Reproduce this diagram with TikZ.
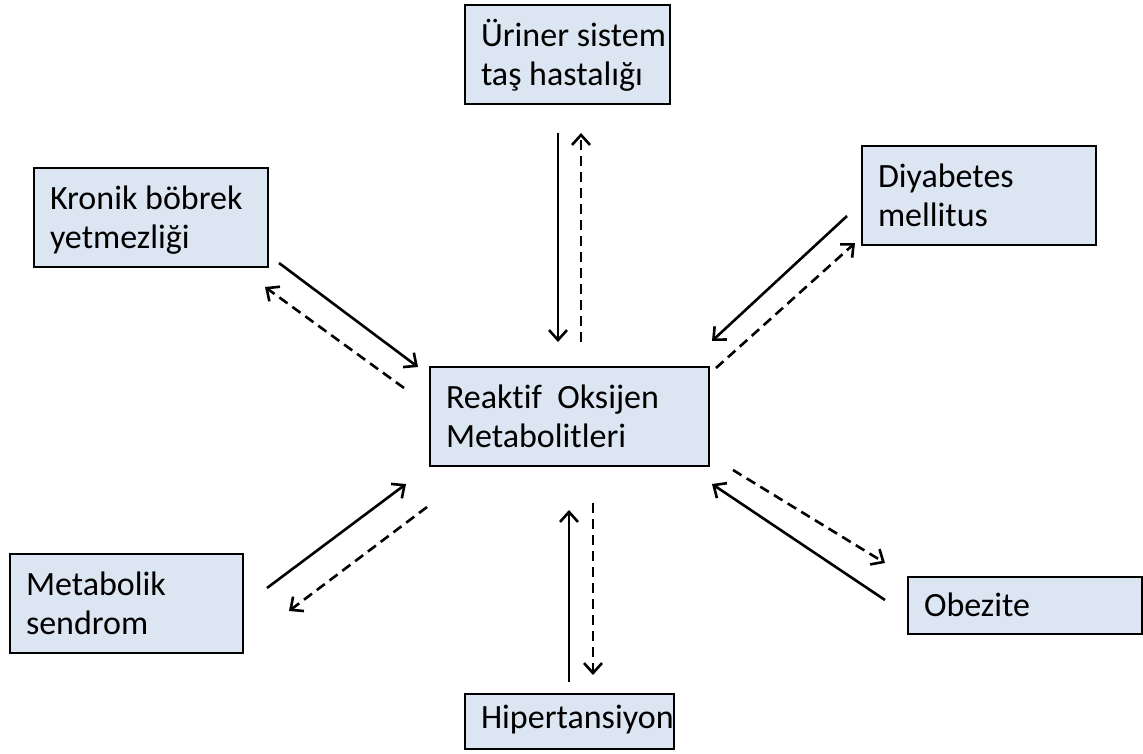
\documentclass[tikz,border=0pt]{standalone}
\usepackage{fontspec}
\setmainfont{Carlito}[Ligatures=NoCommon]
\usetikzlibrary{arrows.meta}
\definecolor{boxfill}{HTML}{DCE6F2}
\tikzset{
  box/.style={draw=black, line width=2pt, fill=boxfill, inner xsep=16pt, inner ysep=0pt,
    align=flush left, anchor=north west, font=\fontsize{34}{39}\selectfont},
  solidarr/.style={line width=2.6pt, -{Straight Barb[length=10pt,width=18pt,line width=2.6pt]}},
  dasharr/.style={solidarr, dash pattern=on 10pt off 6pt}
}
\newcommand{\topstrut}[1]{\rule{0pt}{#1}}
\newcommand{\botstrut}[1]{\rule[-#1]{0pt}{0pt}}
\begin{document}
\begin{tikzpicture}[x=1pt,y=-1pt]
\useasboundingbox (0,0) rectangle (1143,753);
% boxes
\node[box, text width=173pt] (uri) at (464,4) {\topstrut{41pt}\mbox{Üriner sistem}\\\mbox{taş hastalığı}\botstrut{19pt}};
\node[box, text width=202pt] (diy) at (861,145) {\topstrut{41pt}\mbox{Diyabetes}\\\mbox{mellitus}\botstrut{19pt}};
\node[box, text width=202pt] (kro) at (33,167) {\topstrut{41pt}\mbox{Kronik böbrek}\\\mbox{yetmezliği}\botstrut{19pt}};
\node[box, text width=247pt] (rom) at (429,366) {\topstrut{41pt}\mbox{Reaktif\ \ Oksijen}\\\mbox{Metabolitleri}\botstrut{19pt}};
\node[box, text width=201pt] (met) at (9,553) {\topstrut{41pt}\mbox{Metabolik}\\\mbox{sendrom}\botstrut{19pt}};
\node[box, text width=202pt] (obe) at (907,576) {\topstrut{39pt}\mbox{Obezite}\botstrut{18pt}};
\node[box, text width=177pt] (hip) at (464,693) {\topstrut{34pt}\mbox{Hipertansiyon}\botstrut{21pt}};
% arrow end coordinates
\coordinate (u1) at (558,133); \coordinate (u2) at (558,342);
\coordinate (u3) at (581,342); \coordinate (u4) at (581,133);
\coordinate (k1) at (279,263); \coordinate (k2) at (418,367);
\coordinate (k3) at (404,388); \coordinate (k4) at (265,287);
\coordinate (d1) at (847,216); \coordinate (d2) at (712,341);
\coordinate (d3) at (716,368); \coordinate (d4) at (855,243);
\coordinate (m1) at (267,588); \coordinate (m2) at (406,484);
\coordinate (m3) at (427,507); \coordinate (m4) at (289,611);
\coordinate (h1) at (569,682); \coordinate (h2) at (569,510);
\coordinate (h3) at (593,503); \coordinate (h4) at (593,675);
\coordinate (o1) at (733,470); \coordinate (o2) at (885,563);
\coordinate (o3) at (885,600); \coordinate (o4) at (712,484);
% arrows
\draw[solidarr] (u1) -- (u2);
\draw[dasharr] (u3) -- (u4);
\draw[solidarr] (k1) -- (k2);
\draw[dasharr] (k3) -- (k4);
\draw[solidarr] (d1) -- (d2);
\draw[dasharr] (d3) -- (d4);
\draw[solidarr] (m1) -- (m2);
\draw[dasharr] (m3) -- (m4);
\draw[solidarr] (h1) -- (h2);
\draw[dasharr] (h3) -- (h4);
\draw[dasharr] (o1) -- (o2);
\draw[solidarr] (o3) -- (o4);
\end{tikzpicture}
\end{document}
